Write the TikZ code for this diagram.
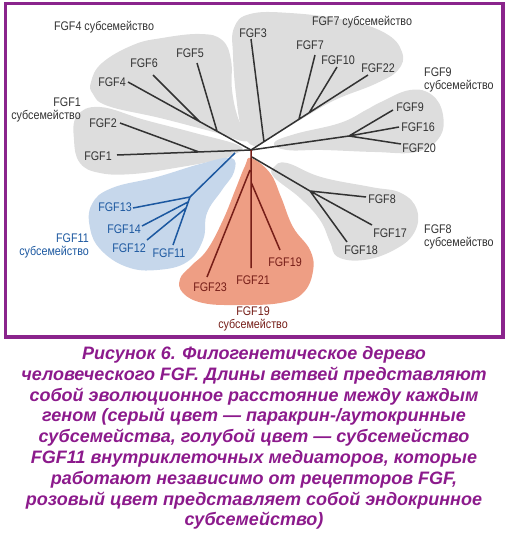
\documentclass[tikz,border=0pt]{standalone}
\usepackage{fontspec}
\setmainfont{Liberation Sans}
\newfontfamily\fgfLabelFont[FakeStretch=0.86]{Liberation Sans}

\definecolor{fgfGrayFill}{RGB}{221,221,221}
\definecolor{fgfBlueFill}{RGB}{198,215,235}
\definecolor{fgfRedFill}{RGB}{238,158,132}
\definecolor{fgfDark}{RGB}{50,50,50}
\definecolor{fgfBlue}{RGB}{28,88,160}
\definecolor{fgfRed}{RGB}{118,30,24}
\definecolor{fgfFrame}{RGB}{138,36,140}
\definecolor{fgfCaption}{RGB}{140,26,140}

\begin{document}
\begin{tikzpicture}[
                x=1pt,y=-1pt,
                fgfBranch/.style={draw=fgfDark,line width=1.5pt},
                fgfBlueBranch/.style={draw=fgfBlue,line width=1.5pt},
                fgfRedBranch/.style={draw=fgfRed,line width=1.5pt},
                fgfGrayBlob/.style={fill=fgfGrayFill,draw=none},
                fgfBlueBlob/.style={fill=fgfBlueFill,draw=none},
                fgfRedBlob/.style={fill=fgfRedFill,draw=none},
                fgfLabel/.style={text=fgfDark,inner sep=0pt,
                                 font=\fgfLabelFont\fontsize{12.5}{13}\selectfont},
                fgfGroup/.style={fgfLabel,font=\fgfLabelFont\fontsize{12.5}{13.5}\selectfont},
                fgfCaptionText/.style={text=fgfCaption,align=center,inner sep=0pt,
                                 font=\bfseries\itshape\fontsize{18}{20.8}\selectfont}]
                \useasboundingbox (0,0) rectangle (508,536);
                \draw[draw=fgfFrame,line width=3.5pt] (5.5,3.5) rectangle (503,337);

                % Subfamily areas behind the tree.
                \path[fgfGrayBlob] plot[smooth cycle,tension=0.7] coordinates {
                  (91,82) (102,63) (133,45) (162,38) (200,34) (222,40) (231,60)
                  (232,90) (238,118) (248,141) (210,131) (160,118) (108,106) (93,94)};
                \path[fgfGrayBlob] plot[smooth cycle,tension=0.7] coordinates {
                  (77,116) (100,107) (145,120) (195,133) (240,146) (233,155)
                  (213,161) (175,168) (133,174) (100,173) (80,163) (74,140)};
                \path[fgfGrayBlob] plot[smooth cycle,tension=0.7] coordinates {
                  (234,28) (250,14) (290,13) (345,20) (385,33) (402,52) (398,70)
                  (375,84) (335,100) (300,120) (272,137) (254,146) (242,130)
                  (236,95) (233,55)};
                \path[fgfGrayBlob] plot[smooth cycle,tension=0.7] coordinates {
                  (381,102) (410,90) (432,95) (443,115) (439,138) (416,152)
                  (375,152) (323,150) (287,150) (274,143) (295,134) (340,123)
                  (366,110)};
                \path[fgfGrayBlob] plot[smooth cycle,tension=0.7] coordinates {
                  (274,167) (287,163) (321,177) (371,187) (401,193) (417,210)
                  (414,233) (394,250) (364,260) (338,257) (330,242) (320,220)
                  (300,198) (274,177)};
                \path[fgfBlueBlob] plot[smooth cycle,tension=0.7] coordinates {
                  (231,158) (200,164) (157,177) (112,188) (92,204) (90,228)
                  (101,250) (127,267) (157,270) (187,262) (203,240) (207,213)
                  (222,190) (234,172)};
                \path[fgfRedBlob] plot[smooth cycle,tension=0.7] coordinates {
                  (251,158) (270,173) (281,197) (293,227) (310,250) (313,271)
                  (303,293) (280,303) (237,305) (203,303) (183,293) (180,279)
                  (191,266) (207,250) (223,220) (236,188) (245,166)};

                % Tree points.
                \coordinate (root) at (251,150);
                \coordinate (e1) at (117,155);
                \coordinate (j2) at (199,152);
                \coordinate (e2) at (120,123);
                \coordinate (e4) at (128,82);
                \coordinate (j6) at (200,122);
                \coordinate (e6) at (153,75);
                \coordinate (j5) at (217,131);
                \coordinate (e5) at (197,63);
                \coordinate (e22) at (368,75);
                \coordinate (j3) at (264,142);
                \coordinate (e3) at (251,39);
                \coordinate (j7) at (299,119);
                \coordinate (e7) at (315,55);
                \coordinate (j10) at (309,113);
                \coordinate (e10) at (337,67);
                \coordinate (j9) at (349,136);
                \coordinate (e9) at (393,110);
                \coordinate (e16) at (399,127);
                \coordinate (e20) at (401,144);
                \coordinate (s8) at (252,157);
                \coordinate (j8) at (310,191);
                \coordinate (e8) at (366,197);
                \coordinate (e17) at (372,225);
                \coordinate (e18) at (347,242);
                \coordinate (sb) at (235,153);
                \coordinate (jb) at (190,197);
                \coordinate (e13) at (133,208);
                \coordinate (j14) at (188,202);
                \coordinate (e14) at (142,226);
                \coordinate (j12) at (186,208);
                \coordinate (e12) at (147,240);
                \coordinate (e11) at (173,245);
                \coordinate (e21) at (251,268);
                \coordinate (j23) at (250,170);
                \coordinate (e23) at (207,277);
                \coordinate (j19) at (251,182);
                \coordinate (e19) at (280,250);

                % Paracrine branches.
                \draw[fgfBranch] (root)--(e1) (j2)--(e2);
                \draw[fgfBranch] (root)--(e4) (j6)--(e6) (j5)--(e5);
                \draw[fgfBranch] (root)--(e22) (j3)--(e3) (j7)--(e7) (j10)--(e10);
                \draw[fgfBranch] (root)--(j9) (j9)--(e9) (j9)--(e16) (j9)--(e20);
                \draw[fgfBranch] (s8)--(j8) (j8)--(e8) (j8)--(e17) (j8)--(e18);

                % Intracellular branches.
                \draw[fgfBlueBranch] (sb)--(jb) (jb)--(e13) (jb)--(e11)
                                     (j14)--(e14) (j12)--(e12);

                % Endocrine branches.
                \draw[fgfRedBranch] (root)--(e21) (j23)--(e23) (j19)--(e19);

                % Gene labels.
                \node[fgfLabel] (l1) at (98,156) {FGF1};
                \node[fgfLabel] (l2) at (103,123) {FGF2};
                \node[fgfLabel] (l4) at (112,82) {FGF4};
                \node[fgfLabel] (l6) at (144,63) {FGF6};
                \node[fgfLabel] (l5) at (190,53) {FGF5};
                \node[fgfLabel] (l3) at (253,33) {FGF3};
                \node[fgfLabel] (l7) at (310,45) {FGF7};
                \node[fgfLabel] (l10) at (338,60) {FGF10};
                \node[fgfLabel] (l22) at (378,68) {FGF22};
                \node[fgfLabel] (l9) at (410,107) {FGF9};
                \node[fgfLabel] (l16) at (418,127) {FGF16};
                \node[fgfLabel] (l20) at (419,148) {FGF20};
                \node[fgfLabel] (l8) at (382,199) {FGF8};
                \node[fgfLabel] (l17) at (390,233) {FGF17};
                \node[fgfLabel] (l18) at (361,250) {FGF18};
                \node[fgfLabel,text=fgfBlue] (l13) at (115,207) {FGF13};
                \node[fgfLabel,text=fgfBlue] (l14) at (124,229) {FGF14};
                \node[fgfLabel,text=fgfBlue] (l12) at (129,248) {FGF12};
                \node[fgfLabel,text=fgfBlue] (l11) at (169,253) {FGF11};
                \node[fgfLabel,text=fgfRed] (l23) at (210,287) {FGF23};
                \node[fgfLabel,text=fgfRed] (l21) at (253,280) {FGF21};
                \node[fgfLabel,text=fgfRed] (l19) at (285,262) {FGF19};

                % Subfamily names.
                \node[fgfGroup] (g4) at (104,27) {FGF4 субсемейство};
                \node[fgfGroup,align=right,anchor=east] (g1) at (81,110) {FGF1\\субсемейство};
                \node[fgfGroup] (g7) at (362,22) {FGF7 субсемейство};
                \node[fgfGroup,align=left,anchor=west] (g9) at (424,80) {FGF9\\субсемейство};
                \node[fgfGroup,align=left,anchor=west] (g8) at (424,237) {FGF8\\субсемейство};
                \node[fgfGroup,text=fgfBlue,align=right,anchor=east] (g11) at (89,246) {FGF11\\субсемейство};
                \node[fgfGroup,text=fgfRed,align=center] (g19) at (253,319) {FGF19\\субсемейство};

                % Caption under the frame.
                \node[fgfCaptionText] (caption) at (254,438) {Рисунок 6. Филогенетическое дерево\\
                  человеческого FGF. Длины ветвей представляют\\
                  собой эволюционное расстояние между каждым\\
                  геном (серый цвет — паракрин-/аутокринные\\
                  субсемейства, голубой цвет — субсемейство\\
                  FGF11 внутриклеточных медиаторов, которые\\
                  работают независимо от рецепторов FGF,\\
                  розовый цвет представляет собой эндокринное\\
                  субсемейство)};
            \end{tikzpicture}
\end{document}
